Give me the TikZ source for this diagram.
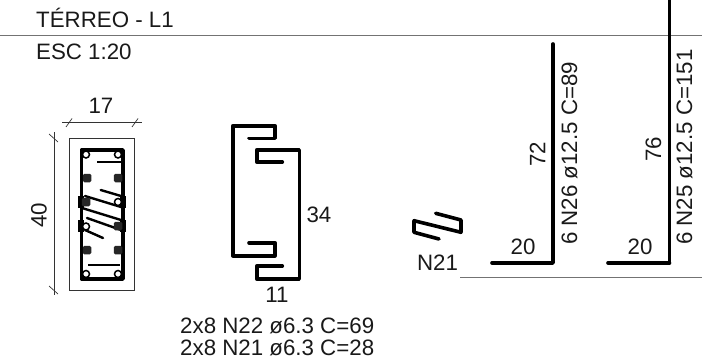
\documentclass[tikz,border=0pt]{standalone}
\usepackage{fontspec}
\setmainfont{Liberation Sans}
\tikzset{
  x=1pt,y=-1pt,
  sepline/.style={line width=0.8pt,draw=black!55},
  barline/.style={line width=3.6pt,line cap=round,line join=round},
  stirrup/.style={line width=2.4pt,line cap=round,line join=round},
  dimline/.style={line width=0.7pt,draw=black!80},
  lbl/.style={inner sep=0pt,font=\fontsize{22.3}{24}\selectfont,text=black!90},
  openbar/.style={circle,draw,line width=1.5pt,fill=white,minimum size=7pt,inner sep=0pt},
  solidbar/.style={rectangle,rounded corners=1.5pt,fill=black!85,minimum size=8.5pt,inner sep=0pt},
}
\begin{document}
\begin{tikzpicture}
\useasboundingbox (0,0) rectangle (702,361);
% separators
\draw[sepline] (0,35) -- (702,35);
\draw[sepline] (460,277) -- (702,277);
% titles
\node[lbl,anchor=base west] (title) at (36,28) {TÉRREO - L1};
\node[lbl,anchor=base west] (scale) at (36,60) {ESC 1:20};
% section
\draw[line width=0.9pt,draw=black!80] (69.5,138.5) rectangle (134.5,290.5);
\draw[line width=3.4pt,line join=round] (81.5,150) rectangle (123,279);
\draw[line width=2pt] (97,161.7) -- (122,161.7);
\draw[line width=2pt] (88,265) -- (120,265);
% hoops
\draw[stirrup] (100.7,190) -- (121,196);
\draw[stirrup] (85,196) -- (121,207);
\draw[stirrup] (82,208) -- (121,220);
\draw[stirrup] (87,218) -- (121,230);
\draw[stirrup] (85,230) -- (103,238);
\draw[line width=6pt] (81,196) -- (81,208);
\draw[line width=6pt] (123,196) -- (123,208);
\draw[line width=6pt] (81,220) -- (81,232);
\draw[line width=6pt] (123,220) -- (123,232);
\foreach \n/\cx/\cy in {oa/86/154.5,ob/118/154.5,oc/118/202,od/86/226.5,oe/86/274,of/118/274}
  \node[openbar] (\n) at (\cx,\cy) {};
\foreach \n/\cx/\cy in {sa/87/178,sb/118/178,sc/86/202,sd/118/226,se/87/250,sf/118/250}
  \node[solidbar] (\n) at (\cx,\cy) {};
% dims
\draw[dimline] (62,122.7) -- (142,122.7);
\draw[dimline] (66,127) -- (72,118.5);
\draw[dimline] (132,127) -- (138,118.5);
\draw[dimline] (54,132) -- (54,295);
\draw[dimline] (49,134) -- (58,142);
\draw[dimline] (49,286) -- (58,294);
\node[lbl] (d17) at (101,106) {17};
\node[lbl,rotate=90] (d40) at (39,215) {40};
% stirrup shapes
\draw[barline] (249,138.3) -- (275,138.3) -- (275,125.7) -- (232.7,125.7) -- (232.7,255.7) -- (275,255.7) -- (275,242.7) -- (249,242.7);
\draw[barline] (282.3,162) -- (256.7,162) -- (256.7,149.7) -- (299.3,149.7) -- (299.3,279) -- (256.7,279) -- (256.7,266) -- (282.3,266);
\node[lbl] (d34) at (319,215) {34};
\node[lbl] (d11) at (277,295) {11};
\node[lbl,anchor=base west] (n22) at (180,333) {2x8 N22 ø6.3 C=69};
\node[lbl,anchor=base west] (n21l) at (180,355) {2x8 N21 ø6.3 C=28};
% N21
\draw[barline] (439,239) -- (414,232.3) -- (414,220.7) -- (461,232.3) -- (461,220) -- (435.7,213.3);
\node[lbl] (n21) at (437.5,263) {N21};
% L bars
\draw[barline] (492,263) -- (553,263) -- (553,44);
\draw[barline] (608,263) -- (669.5,263);
\draw[line width=3.6pt,line join=round] (669.5,263) -- (669.5,0);
\node[lbl] (a20) at (523,247) {20};
\node[lbl] (b20) at (640,247) {20};
\node[lbl,rotate=90] (a72) at (537.5,154) {72};
\node[lbl,rotate=90] (b76) at (653.5,149) {76};
\node[lbl,rotate=90,anchor=base west] (n26) at (577,245) {6 N26 ø12.5 C=89};
\node[lbl,rotate=90,anchor=base west] (n25) at (692,245) {6 N25 ø12.5 C=151};
\end{tikzpicture}
\end{document}
